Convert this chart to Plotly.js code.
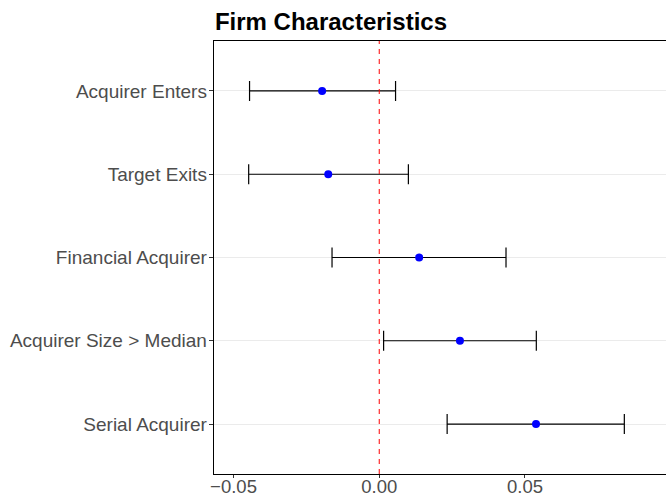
<!DOCTYPE html>
<html>
<head>
<meta charset="utf-8">
<script src="https://cdn.plot.ly/plotly-3.0.1.min.js"></script>
<style>html,body{margin:0;padding:0;background:#fff;}#chart{width:666px;height:496px;}</style>
</head>
<body>
<div id="chart"></div>
<script>
// Data (top-to-bottom order as shown)
const categories = ["Acquirer Enters", "Target Exits", "Financial Acquirer", "Acquirer Size > Median", "Serial Acquirer"];
const estimate = [-0.0196, -0.0175, 0.0137, 0.0277, 0.0538];
const lower = [-0.0445, -0.0448, -0.0162, 0.0015, 0.0233];
const upper = [0.0056, 0.0100, 0.0435, 0.0539, 0.0841];
const xTickVals = [-0.05, 0, 0.05];
const xTickText = ["\u22120.05", "0.00", "0.05"];
const refValue = 0;

const plus = upper.map((u, i) => u - estimate[i]);
const minus = estimate.map((e, i) => e - lower[i]);

const trace = {
  type: "scatter",
  mode: "markers",
  x: estimate,
  y: categories,
  marker: {color: "#0000FF", size: 8},
  error_x: {
    type: "data",
    symmetric: false,
    array: plus,
    arrayminus: minus,
    color: "#000000",
    thickness: 1.2,
    width: 10
  },
  hoverinfo: "x+y",
  showlegend: false
};

const font = "'Liberation Sans', Arial, Helvetica, sans-serif";

const layout = {
  width: 666,
  height: 496,
  margin: {l: 214, r: 0, t: 41, b: 22},
  paper_bgcolor: "#ffffff",
  plot_bgcolor: "#ffffff",
  font: {family: font, color: "#4D4D4D", size: 19},
  title: {
    text: "<b>Firm Characteristics</b>",
    font: {family: font, size: 24, color: "#000000"},
    x: 0.002, xref: "paper", xanchor: "left",
    y: 1 - 22 / 496, yref: "container", yanchor: "middle"
  },
  xaxis: {
    range: [-0.0567, 0.0984],
    tickvals: xTickVals,
    ticktext: xTickText,
    showgrid: false,
    zeroline: false,
    showline: true,
    linecolor: "#000000",
    linewidth: 1.3,
    mirror: true,
    ticks: "outside",
    ticklen: 3,
    tickcolor: "#333333",
    tickwidth: 1,
    ticklabelstandoff: -8,
    tickfont: {family: font, size: 18.5, color: "#4D4D4D"}
  },
  yaxis: {
    type: "category",
    categoryorder: "array",
    categoryarray: categories.slice().reverse(),
    range: [-0.6, 4.6],
    showgrid: true,
    gridcolor: "#EBEBEB",
    gridwidth: 1,
    zeroline: false,
    showline: true,
    linecolor: "#000000",
    linewidth: 1.3,
    ticks: "outside",
    ticklen: 4,
    tickcolor: "#333333",
    tickwidth: 1,
    ticklabelstandoff: -2,
    tickfont: {family: font, size: 19, color: "#4D4D4D"}
  },
  shapes: [{
    type: "line",
    xref: "x", yref: "paper",
    x0: refValue, x1: refValue, y0: 0, y1: 1,
    line: {color: "#FF0000", width: 1, dash: "5px,5px"},
    layer: "above"
  }]
};

Plotly.newPlot("chart", [trace], layout, {displayModeBar: false, staticPlot: true});
</script>
</body>
</html>
